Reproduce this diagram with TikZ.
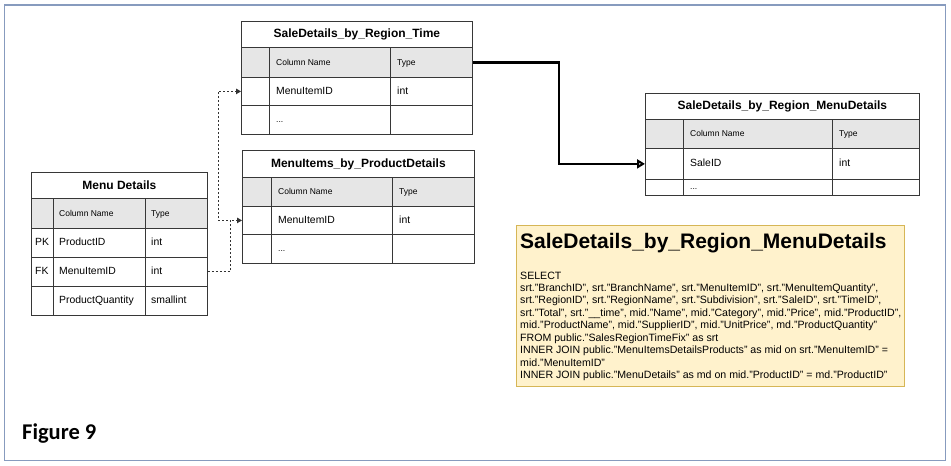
\documentclass[tikz,border=0pt]{standalone}
\usepackage{fontspec}
\setmainfont{Liberation Sans}
\newfontfamily\capfont{Carlito}
\usetikzlibrary{arrows.meta}
\definecolor{tabc}{RGB}{55,55,55}
\definecolor{hdr}{RGB}{230,230,230}
\definecolor{noteF}{HTML}{FFF2CC}
\definecolor{noteD}{HTML}{D6B656}
\definecolor{frameC}{RGB}{135,155,190}
\definecolor{dotc}{RGB}{50,50,50}
\begin{document}
\begin{tikzpicture}[x=1pt,y=-1pt,
  rowbox/.style={draw=tabc,line width=0.8pt,rectangle,inner sep=0pt,anchor=north west},
  ttl/.style={font=\fontsize{12}{14}\selectfont\bfseries},
  hd/.style={anchor=west,inner sep=0pt,font=\fontsize{8.5}{10}\selectfont,text height=1.5ex,text depth=.25ex},
  cell/.style={anchor=west,inner sep=0pt,font=\fontsize{10.4}{12}\selectfont,text height=1.5ex,text depth=.25ex},
  dv/.style={draw=tabc,line width=0.8pt},
  fk/.style={draw=dotc,line width=1pt,dash pattern=on 2pt off 2pt,-{Triangle[length=5pt,width=5.5pt]}},
  rel/.style={line width=2.2pt,-{Triangle[open,fill=white,length=8pt,width=9pt]}},
  sql/.style={anchor=base west,inner sep=0pt,font=\fontsize{10.6}{12}\selectfont},
]
\useasboundingbox (0,0) rectangle (951,466);
\draw[frameC,line width=1.2pt] (4.5,5) rectangle (945.5,460.5);

% ---- SaleDetails_by_Region_Time
\node[rowbox,ttl,minimum width=231pt,minimum height=26pt] (t1t) at (241,21) {SaleDetails\_by\_Region\_Time};
\node[rowbox,fill=hdr,minimum width=231pt,minimum height=30pt] (t1h) at (241,47) {};
\node[rowbox,minimum width=231pt,minimum height=28pt] (t1r1) at (241,77) {};
\node[rowbox,minimum width=231pt,minimum height=29pt] (t1r2) at (241,105) {};
\draw[dv] (269,47) -- (269,134) (390,47) -- (390,134);
\node[hd] (t1hc) at (276,62) {Column Name};
\node[hd] (t1ht) at (397,62) {Type};
\node[cell] (t1c1) at (276,91) {MenuItemID};
\node[cell] (t1y1) at (397,91) {int};
\node[hd] (t1c2) at (276,119.5) {...};

% ---- MenuItems_by_ProductDetails
\node[rowbox,ttl,minimum width=232pt,minimum height=27pt] (t2t) at (242,150) {MenuItems\_by\_ProductDetails};
\node[rowbox,fill=hdr,minimum width=232pt,minimum height=29pt] (t2h) at (242,177) {};
\node[rowbox,minimum width=232pt,minimum height=28pt] (t2r1) at (242,206) {};
\node[rowbox,minimum width=232pt,minimum height=29pt] (t2r2) at (242,234) {};
\draw[dv] (271,177) -- (271,263) (392,177) -- (392,263);
\node[hd] (t2hc) at (278,191.5) {Column Name};
\node[hd] (t2ht) at (399,191.5) {Type};
\node[cell] (t2c1) at (278,220) {MenuItemID};
\node[cell] (t2y1) at (399,220) {int};
\node[hd] (t2c2) at (278,248.5) {...};

% ---- Menu Details
\node[rowbox,ttl,minimum width=176pt,minimum height=26pt] (t3t) at (31,172) {Menu Details};
\node[rowbox,fill=hdr,minimum width=176pt,minimum height=30pt] (t3h) at (31,198) {};
\node[rowbox,minimum width=176pt,minimum height=29pt] (t3r1) at (31,228) {};
\node[rowbox,minimum width=176pt,minimum height=29pt] (t3r2) at (31,257) {};
\node[rowbox,minimum width=176pt,minimum height=29pt] (t3r3) at (31,286) {};
\draw[dv] (53,198) -- (53,315) (145,198) -- (145,315);
\node[hd] (t3hc) at (59,213) {Column Name};
\node[hd] (t3ht) at (151,213) {Type};
\node[cell] (t3k1) at (35,242.5) {PK};
\node[cell] (t3c1) at (59,242.5) {ProductID};
\node[cell] (t3y1) at (151,242.5) {int};
\node[cell] (t3k2) at (35,271.5) {FK};
\node[cell] (t3c2) at (59,271.5) {MenuItemID};
\node[cell] (t3y2) at (151,271.5) {int};
\node[cell] (t3c3) at (59,300.5) {ProductQuantity};
\node[cell] (t3y3) at (151,300.5) {smallint};

% ---- SaleDetails_by_Region_MenuDetails
\node[rowbox,ttl,minimum width=274pt,minimum height=26pt] (t4t) at (645,93) {SaleDetails\_by\_Region\_MenuDetails};
\node[rowbox,fill=hdr,minimum width=274pt,minimum height=29pt] (t4h) at (645,119) {};
\node[rowbox,minimum width=274pt,minimum height=31pt] (t4r1) at (645,148) {};
\node[rowbox,minimum width=274pt,minimum height=16pt] (t4r2) at (645,179) {};
\draw[dv] (683,119) -- (683,195) (832,119) -- (832,195);
\node[hd] (t4hc) at (690,133.5) {Column Name};
\node[hd] (t4ht) at (839,133.5) {Type};
\node[cell] (t4c1) at (690,163.5) {SaleID};
\node[cell] (t4y1) at (839,163.5) {int};
\node[hd] (t4c2) at (690,186) {...};

% ---- connectors
\draw[rel] (t1h.east) -- ++(86.5,0) |- (t4r1.west);
\draw[fk] (t3r2.east) -| ([xshift=-12pt]t2r1.west) -- (t2r1.west);
\draw[fk] (t3r2.east) -| ([xshift=-12pt]t2r1.west) -- ([xshift=-24pt]t2r1.west) |- (t1r1.west);

% ---- note
\node[draw=noteD,fill=noteF,line width=1pt,rectangle,inner sep=0pt,anchor=north west,minimum width=388pt,minimum height=161pt] (note) at (516,225) {};
\node[anchor=base west,inner sep=0pt,font=\fontsize{21}{24}\selectfont\bfseries] (notet) at (520,248) {SaleDetails\_by\_Region\_MenuDetails};
\foreach \t [count=\i from 0] in {%
 {SELECT},%
 {srt."BranchID", srt."BranchName", srt."MenuItemID", srt."MenuItemQuantity",},%
 {srt."RegionID", srt."RegionName", srt."Subdivision", srt."SaleID", srt."TimeID",},%
 {srt."Total", srt."\_\_time", mid."Name", mid."Category", mid."Price", mid."ProductID",},%
 {mid."ProductName", mid."SupplierID", mid."UnitPrice", md."ProductQuantity"},%
 {FROM public."SalesRegionTimeFix" as srt},%
 {INNER JOIN public."MenuItemsDetailsProducts" as mid on srt."MenuItemID" =},%
 {mid."MenuItemID"},%
 {INNER JOIN public."MenuDetails" as md on mid."ProductID" = md."ProductID"}}
 \node[sql] (sql\i) at (520,{279+12.46*\i}) {\t};

% ---- caption
\node[anchor=base west,inner sep=0pt,font=\capfont\bfseries\fontsize{22.5}{26}\selectfont] (fig) at (22,439) {Figure 9};
\end{tikzpicture}
\end{document}
